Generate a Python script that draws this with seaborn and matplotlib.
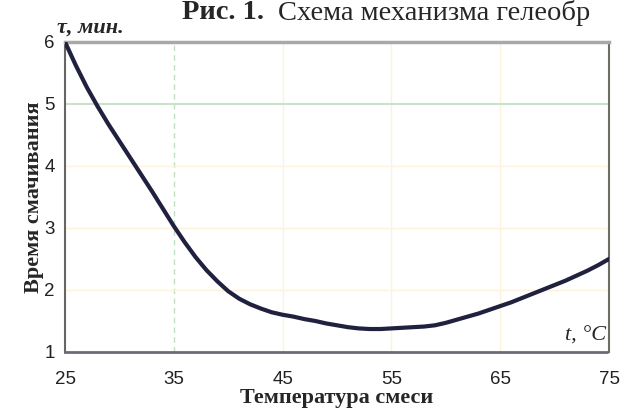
import numpy as np
import pandas as pd
import seaborn as sns
import matplotlib.pyplot as plt

# temperature of the mixture, deg C, and wetting time, min
temperature = [25, 26, 27, 28, 29, 30, 31, 32, 33, 34, 35, 36, 37, 38, 39, 40, 41, 42,
               43, 44, 45, 46, 47, 48, 49, 50, 51, 52, 53, 54, 55, 56, 57, 58, 59, 60,
               61, 62, 63, 64, 65, 66, 67, 68, 69, 70, 71, 72, 73, 74, 75]
wetting_time = [6.0, 5.62, 5.27, 4.96, 4.67, 4.40, 4.13, 3.86, 3.59, 3.31, 3.03, 2.77, 2.53,
                2.32, 2.14, 1.98, 1.86, 1.77, 1.70, 1.64, 1.60, 1.57, 1.53, 1.50, 1.46, 1.43,
                1.40, 1.38, 1.37, 1.37, 1.38, 1.39, 1.40, 1.41, 1.43, 1.47, 1.52, 1.57, 1.62,
                1.68, 1.74, 1.80, 1.87, 1.94, 2.01, 2.08, 2.15, 2.23, 2.31, 2.40, 2.50]

x_ticks = [25, 35, 45, 55, 65, 75]
y_ticks = [1, 2, 3, 4, 5, 6]

df = pd.DataFrame({"t": temperature, "tau": wetting_time})

sns.set_theme(style="white")
plt.rcParams["font.family"] = ["Liberation Sans", "DejaVu Sans"]

fig = plt.figure(figsize=(6.21, 4.2), dpi=100)
ax = fig.add_axes([0.1047, 0.162, 0.876, 0.738])

# grid
for xv in [45, 55, 65]:
    ax.axvline(xv, color="#fdf3dc", lw=1, zorder=0)
ax.axvline(35, color="#bfe0bf", lw=1, ls=(0, (4, 3)), zorder=0)
for yv in [2, 3, 4]:
    ax.axhline(yv, color="#fdf3dc", lw=1, zorder=0)
ax.axhline(5, color="#c8e4c8", lw=1.5, zorder=0)

sns.lineplot(data=df, x="t", y="tau", ax=ax, color="#20203f", lw=3, zorder=3)

ax.set_xlim(25, 75)
ax.set_ylim(1, 6)
ax.set_xticks(x_ticks)
ax.set_yticks(y_ticks)
ax.tick_params(axis="both", labelsize=13.5, length=4, width=1, colors="#555555",
               labelcolor="#222222", direction="out")
ax.tick_params(axis="x", pad=10)

for side in ["left", "right", "top", "bottom"]:
    ax.spines[side].set_visible(True)
ax.spines["left"].set_color("#666666")
ax.spines["left"].set_linewidth(1.5)
ax.spines["right"].set_color("#6f6f5f")
ax.spines["right"].set_linewidth(1.5)
ax.spines["top"].set_color("#a8a8a8")
ax.spines["top"].set_linewidth(2.5)
ax.spines["top"].set_linestyle((0, (2, 1)))
ax.spines["bottom"].set_color("#6a6a7a")
ax.spines["bottom"].set_linewidth(2)
ax.spines["bottom"].set_linestyle((0, (1, 1)))

ax.set_xlabel("Температура смеси", fontsize=16, fontweight="bold",
              family=["Liberation Serif"], labelpad=0)
ax.set_ylabel("Время смачивания", fontsize=16, fontweight="bold",
              family=["Liberation Serif"], labelpad=0)

ax.text(-0.015, 1.015, "τ, мин.", transform=ax.transAxes, fontsize=16,
        fontweight="bold", style="italic", family=["Liberation Serif"],
        ha="left", va="bottom")
ax.text(0.995, 0.02, "t, °C", transform=ax.transAxes, fontsize=16,
        style="italic", family=["Liberation Serif"], ha="right", va="bottom")

# heading as visible in the source (cut at the right edge there)
fig.text(0.293, 0.999, "Рис. 1.", fontsize=20.5, fontweight="bold",
         family=["Liberation Serif"], ha="left", va="top")
fig.text(0.447, 0.999, "Схема механизма гелеобр", fontsize=20.5,
         family=["Liberation Serif"], ha="left", va="top")

fig.savefig("out.png", dpi=100)
